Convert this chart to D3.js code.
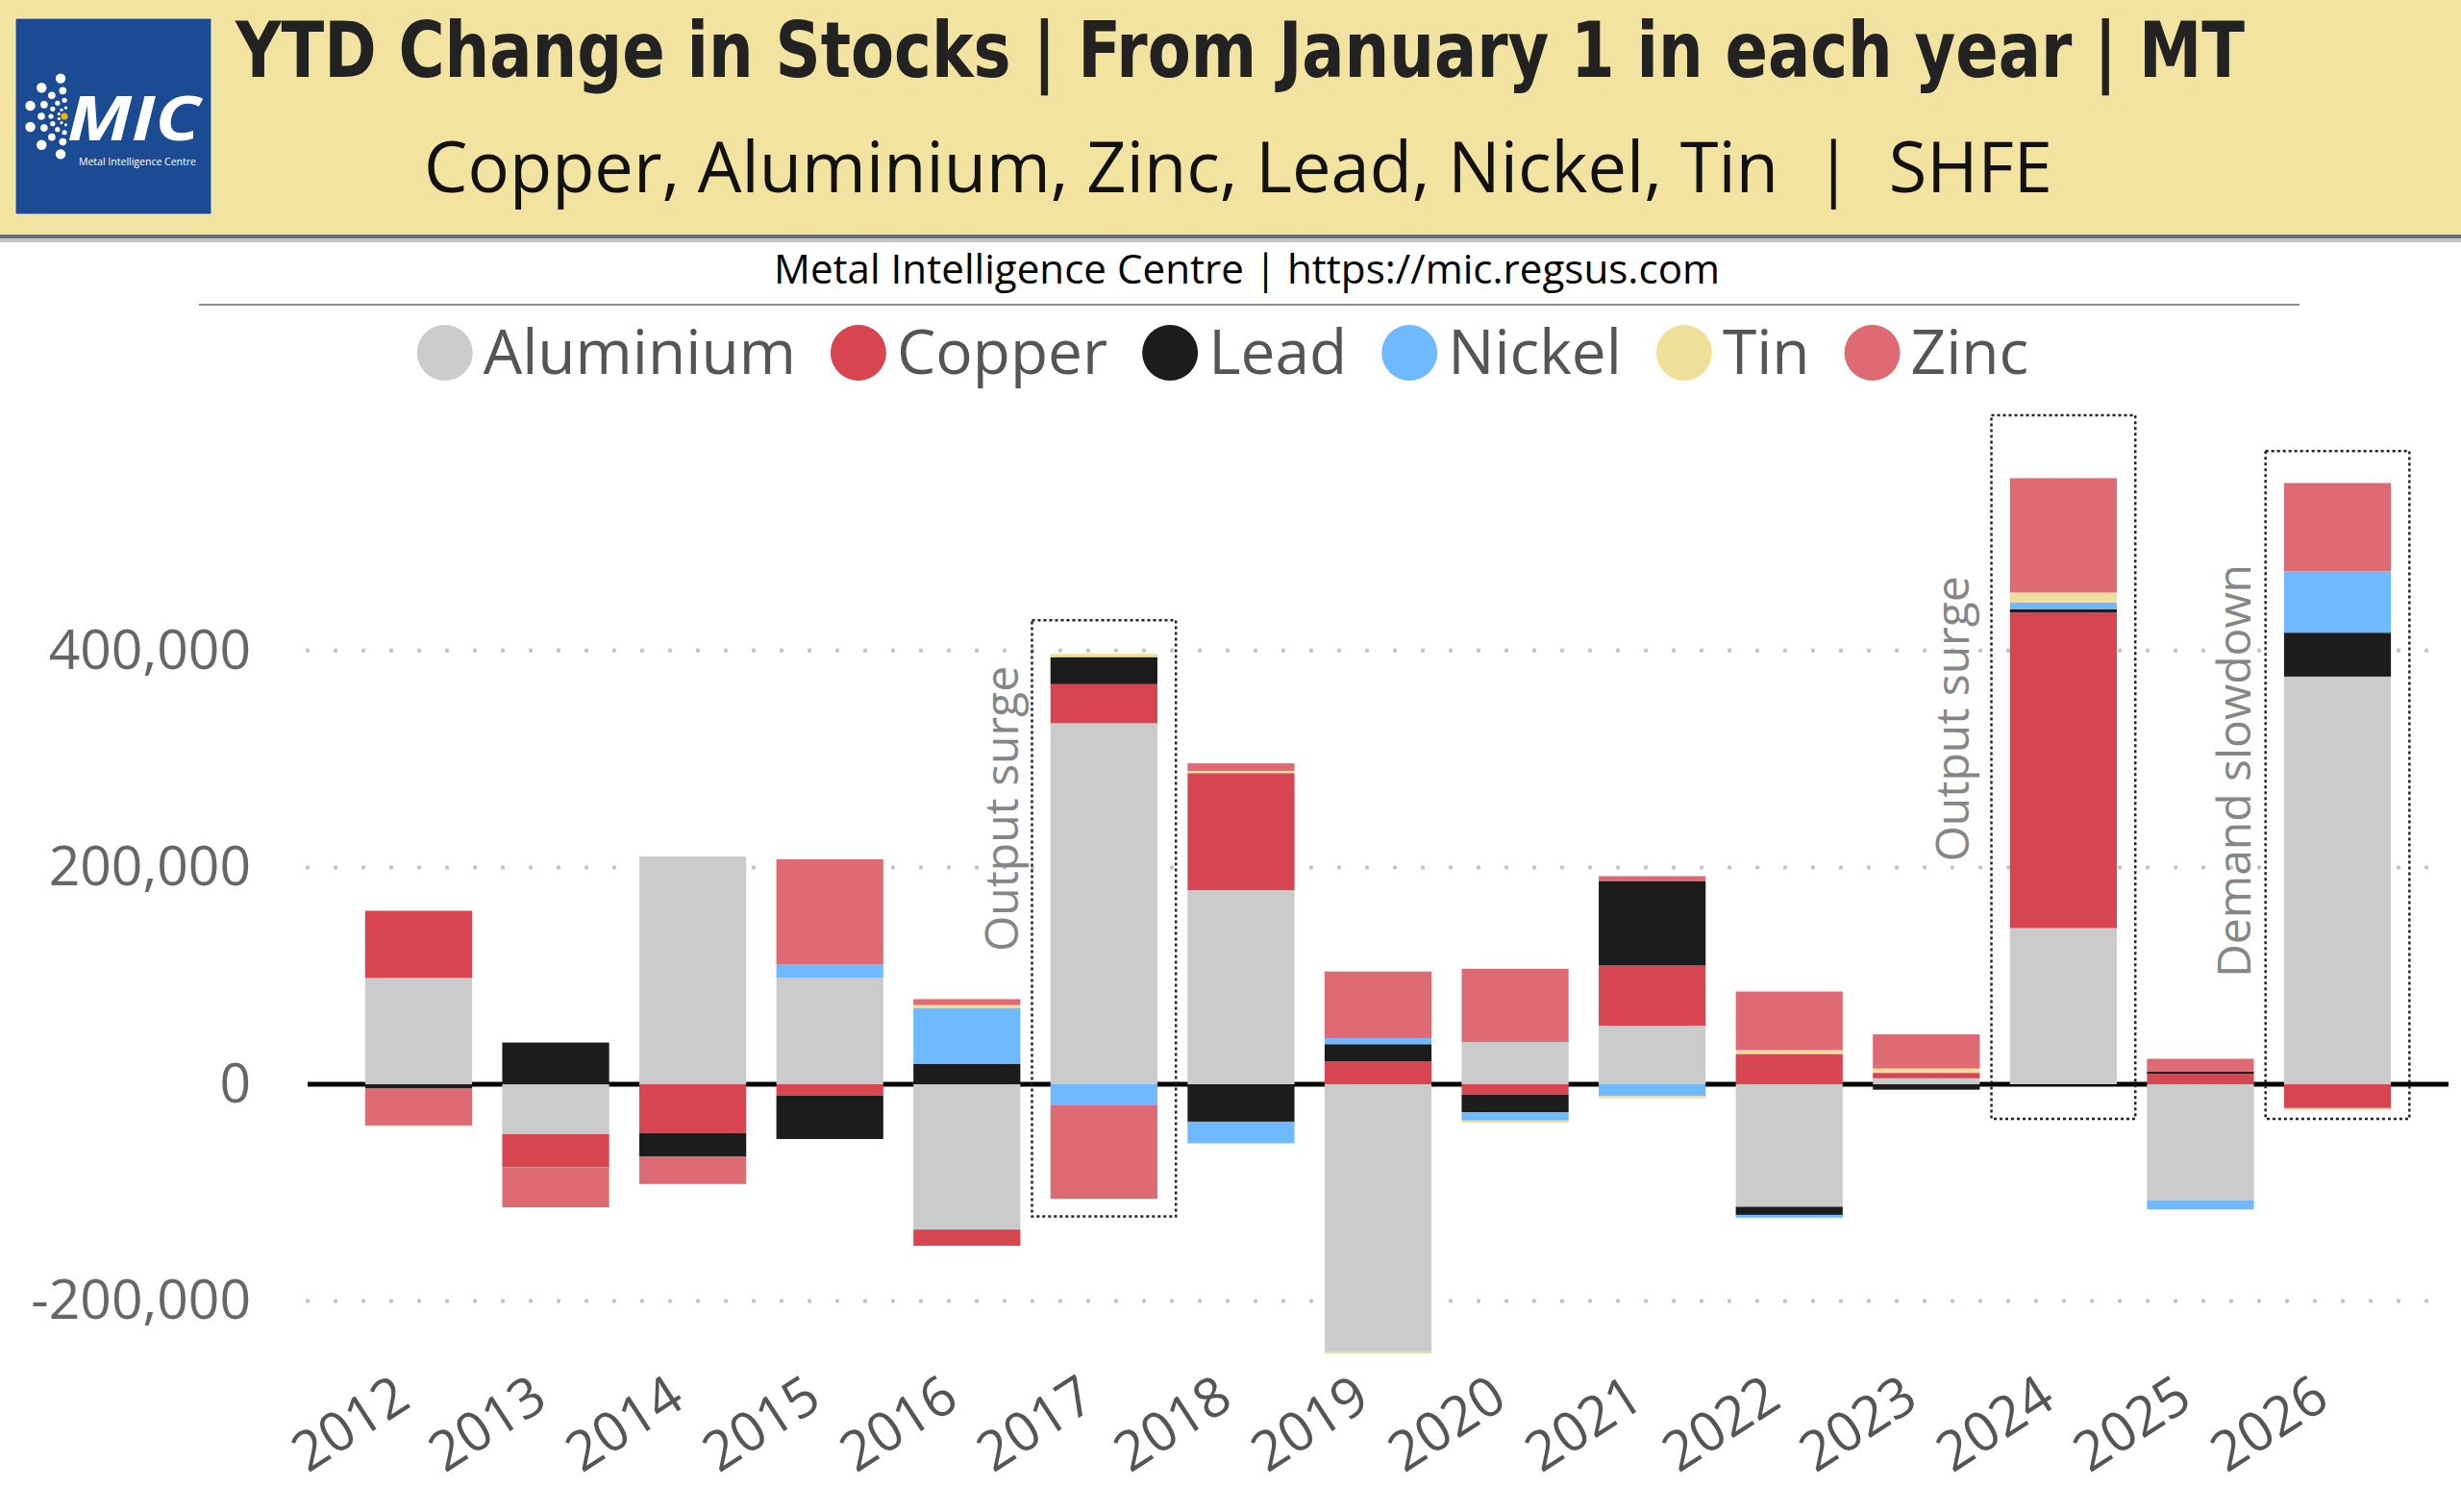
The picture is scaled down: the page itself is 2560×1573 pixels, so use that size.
<!DOCTYPE html>
<html>
<head>
<meta charset="utf-8">
<script src="https://cdn.jsdelivr.net/npm/d3@7"></script>
<style>
  body { margin: 0; background: #fff; }
  svg { display: block; }
  text { font-family: "Open Sans", "Noto Sans", sans-serif; }
</style>
</head>
<body>
<div id="chart"></div>
<script>
// values (MT)
const years = [2012, 2013, 2014, 2015, 2016, 2017, 2018, 2019, 2020, 2021, 2022, 2023, 2024, 2025, 2026];
const metals = ["Aluminium", "Copper", "Lead", "Nickel", "Tin", "Zinc"];
const colors = ["#CBCBCB", "#D64550", "#1C1C1C", "#6EB9FF", "#F0DF99", "#DE6A73"];

const aluminium = [98000, -46000, 210000, 98000, -134000, 333000, 179000, -247000, 39000, 54000, -113000, 5500, 144000, -107000, 376000];
const copper    = [62000, -30500, -45000, -10500, -15000, 36000, 108000, 21000, -9500, 55500, 28000, 5000, 291000, 9500, -22000];
const lead      = [-4000, 38500, -21500, -40000, 19000, 25000, -34500, 16000, -16500, 78000, -7500, -5000, 3000, 2000, 40500];
const nickel    = [0, 0, 0, 12500, 51500, -19500, -20000, 5500, -7500, -11000, -2500, 0, 6500, -8500, 56500];
const tin       = [0, 0, 0, 0, 2500, 3000, 2000, -1500, -2000, -2000, 3500, 4000, 9000, 0, -1500];
const zinc      = [-34000, -37000, -25500, 97000, 5500, -86000, 7000, 61500, 67500, 4500, 54000, 31500, 105500, 12000, 81500];

const yTicks = [-200000, 0, 200000, 400000];

// annotation boxes: year, text, box extent and text centre in MT
const notes = [
  {year: 2017, label: "Output surge", top: 428000, bottom: -122000, textAt: 254000, gap: 15},
  {year: 2024, label: "Output surge", top: 617000, bottom: -32000, textAt: 337000, gap: 24},
  {year: 2026, label: "Demand slowdown", top: 584000, bottom: -32000, textAt: 289000, gap: 16}
];

const title = "YTD Change in Stocks | From January 1 in each year | MT";
const subtitle = "Copper, Aluminium, Zinc, Lead, Nickel, Tin  |  SHFE";
const source = "Metal Intelligence Centre | https://mic.regsus.com";

const W = 2560, H = 1573;
const series = {Aluminium: aluminium, Copper: copper, Lead: lead, Nickel: nickel, Tin: tin, Zinc: zinc};
const rows = years.map((yr, i) => {
  let r = {year: yr};
  metals.forEach(m => r[m] = series[m][i]);
  return r;
});

const svg = d3.select("#chart").append("svg")
    .attr("width", W)
    .attr("height", H);

// ---- banner
svg.append("rect").attr("x", 0).attr("y", 0).attr("width", W).attr("height", 245).attr("fill", "#F2E3A1");
svg.append("rect").attr("x", 0).attr("y", 244).attr("width", W).attr("height", 4).attr("fill", "#6E6E6E");
svg.append("rect").attr("x", 0).attr("y", 248).attr("width", W).attr("height", 4).attr("fill", "#C4C4C4");

// logo
const logo = svg.append("g");
logo.append("rect").attr("x", 16).attr("y", 19).attr("width", 204).attr("height", 204)
    .attr("fill", "#1B4B92").attr("stroke", "#f4f0dd").attr("stroke-width", 1);
const ringR = [9, 17, 27, 40], dotR = [1.6, 2.6, 3.8, 5.2], dotN = [6, 7, 7, 6];
ringR.forEach((rr, k) => {
  d3.range(dotN[k]).forEach(j => {
    let a = (100 + j * 160 / (dotN[k] - 1)) * Math.PI / 180;
    logo.append("circle")
        .attr("cx", 70 + rr * Math.cos(a))
        .attr("cy", 121 - rr * Math.sin(a))
        .attr("r", dotR[k])
        .attr("fill", "#fff");
  });
});
logo.append("circle").attr("cx", 67).attr("cy", 121).attr("r", 3.6).attr("fill", "#F5B400");
logo.append("text").attr("x", 70).attr("y", 146).text("MIC")
    .attr("fill", "#fff").attr("font-size", 64).attr("font-weight", "bold").attr("font-style", "italic")
    .attr("textLength", 138).attr("lengthAdjust", "spacingAndGlyphs");
logo.append("text").attr("x", 82).attr("y", 172).text("Metal Intelligence Centre")
    .attr("fill", "#fff").attr("font-size", 10.5)
    .attr("textLength", 122).attr("lengthAdjust", "spacingAndGlyphs");

svg.append("text").attr("x", 245).attr("y", 80).text(title)
    .style("font-family", "'Liberation Sans Narrow', 'DejaVu Sans Condensed', sans-serif")
    .attr("font-weight", "bold").attr("font-size", 80).attr("fill", "#222")
    .attr("textLength", 2090).attr("lengthAdjust", "spacingAndGlyphs");

svg.append("text").attr("x", 441).attr("y", 200).text(subtitle)
    .style("white-space", "pre")
    .attr("font-size", 74).attr("fill", "#111")
    .attr("textLength", 1694).attr("lengthAdjust", "spacingAndGlyphs");

svg.append("text").attr("x", 805).attr("y", 295).text(source)
    .attr("font-size", 42).attr("fill", "#000")
    .attr("textLength", 984).attr("lengthAdjust", "spacingAndGlyphs");

svg.append("line").attr("x1", 207).attr("x2", 2392).attr("y1", 317).attr("y2", 317)
    .attr("stroke", "#8c8c8c").attr("stroke-width", 2);

// ---- legend
const legend = svg.append("g");
let lx = 0;
metals.forEach((m, i) => {
  let g = legend.append("g");
  g.append("circle").attr("cx", 29).attr("cy", 0).attr("r", 29).attr("fill", colors[i]);
  let t = g.append("text").attr("x", 69).attr("y", 0).attr("dy", "0.35em")
      .attr("font-size", 64).attr("fill", "#555").text(m);
  let w = 69 + t.node().getComputedTextLength();
  g.attr("transform", `translate(${lx},0)`);
  lx += w + 36;
});
lx -= 36;
legend.attr("transform", `translate(${1272 - lx / 2},367)`);

// ---- chart
const x = d3.scaleBand()
    .domain(years)
    .range([320, 2547])
    .paddingInner(0.22)
    .paddingOuter(0.42);

const y = d3.scaleLinear()
    .domain([-200000, 400000])
    .range([1353.6, 676.8]);

const fmt = d3.formatLocale({decimal: ".", thousands: ",", grouping: [3], currency: ["", ""], minus: "-"}).format(",");

// dotted gridlines
svg.append("g").selectAll("line")
    .data(yTicks.filter(d => d != 0))
    .join("line")
    .attr("x1", 320).attr("x2", 2547)
    .attr("y1", d => y(d)).attr("y2", d => y(d))
    .attr("stroke", "#C4C4C4")
    .attr("stroke-width", 4.5)
    .attr("stroke-linecap", "round")
    .attr("stroke-dasharray", "0 29");

const yAxis = svg.append("g")
    .attr("transform", "translate(320,0)")
    .call(d3.axisLeft(y).tickValues(yTicks).tickFormat(fmt).tickSize(0).tickPadding(59));
yAxis.select(".domain").remove();
yAxis.selectAll("text").attr("font-size", 57).attr("fill", "#666").style("font-family", "'Open Sans', sans-serif");

// zero line
svg.append("line")
    .attr("x1", 320).attr("x2", 2547)
    .attr("y1", y(0)).attr("y2", y(0))
    .attr("stroke", "#000").attr("stroke-width", 5);

const stacked = d3.stack().keys(metals).offset(d3.stackOffsetDiverging)(rows);

svg.append("g").selectAll("g")
    .data(stacked)
    .join("g")
    .attr("fill", (d, i) => colors[i])
    .selectAll("rect")
    .data(d => d)
    .join("rect")
    .attr("x", d => x(d.data.year))
    .attr("width", x.bandwidth())
    .attr("y", d => y(Math.max(d[0], d[1])))
    .attr("height", d => Math.abs(y(d[0]) - y(d[1])));

const xAxis = svg.append("g")
    .attr("transform", "translate(-6,1462)")
    .call(d3.axisBottom(x).tickSize(0));
xAxis.select(".domain").remove();
xAxis.selectAll("text")
    .attr("x", 0).attr("y", 0).attr("dy", 0)
    .attr("text-anchor", "end")
    .attr("transform", "rotate(-33)")
    .attr("font-size", 57).attr("fill", "#555")
    .style("font-family", "'Open Sans', sans-serif");

// ---- annotations
const pad = x.step() * 0.135;
const ann = svg.append("g");
ann.selectAll("rect")
    .data(notes)
    .join("rect")
    .attr("x", d => x(d.year) - pad)
    .attr("width", x.bandwidth() + 2 * pad)
    .attr("y", d => y(d.top))
    .attr("height", d => y(d.bottom) - y(d.top))
    .attr("fill", "none")
    .attr("stroke", "#222")
    .attr("stroke-width", 2.5)
    .attr("stroke-dasharray", "3 3");

ann.selectAll("text")
    .data(notes)
    .join("text")
    .attr("transform", d => `translate(${x(d.year) - pad - d.gap},${y(d.textAt)}) rotate(-90)`)
    .attr("text-anchor", "middle")
    .attr("font-size", 48)
    .attr("fill", "#868686")
    .text(d => d.label);
</script>
</body>
</html>
